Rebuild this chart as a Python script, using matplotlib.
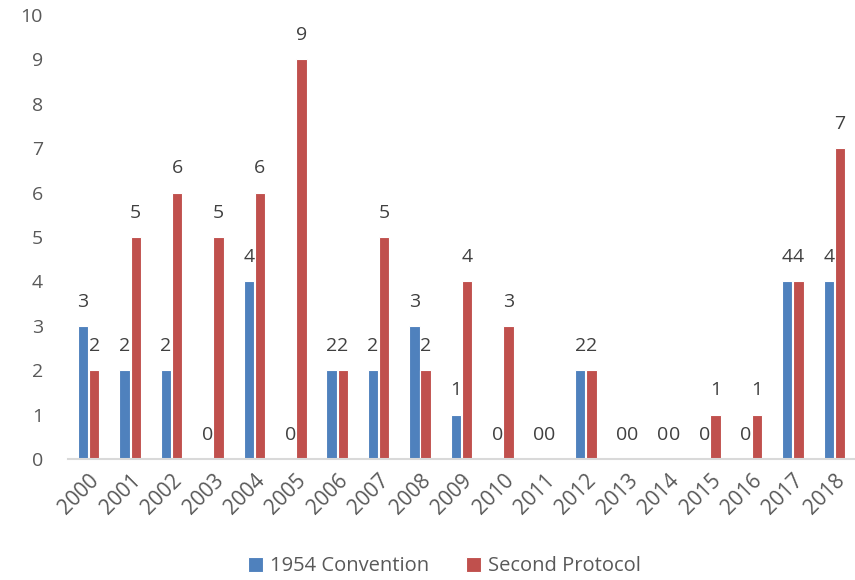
import numpy as np
import matplotlib
matplotlib.use("Agg")
import matplotlib.pyplot as plt

years = [str(y) for y in range(2000, 2019)]
convention_1954 = [3, 2, 2, 0, 4, 0, 2, 2, 3, 1, 0, 0, 2, 0, 0, 0, 0, 4, 4]
second_protocol = [2, 5, 6, 5, 6, 9, 2, 5, 2, 4, 3, 0, 2, 0, 0, 1, 1, 4, 7]

plt.rcParams['font.family'] = ['Open Sans', 'DejaVu Sans']

fig = plt.figure(figsize=(8.55, 5.8), dpi=100)
ax = fig.add_axes([0.0795, 0.2086, 0.9205, 0.7655])

x = np.arange(len(years))
w = 0.25
b1 = ax.bar(x - w / 2 - 0.01, convention_1954, w, color='#4F81BD',
            edgecolor='white', linewidth=0.8, label='1954 Convention')
b2 = ax.bar(x + w / 2 + 0.01, second_protocol, w, color='#C0504D',
            edgecolor='white', linewidth=0.8, label='Second Protocol')

ax.bar_label(b1, padding=11, fontsize=14, color='#404040')
ax.bar_label(b2, padding=11, fontsize=14, color='#404040')

ax.set_xlim(-0.5, len(years) - 0.5)
ax.set_ylim(0, 10)
ax.set_yticks(range(0, 11))
ax.set_xticks(x)
ax.set_xticklabels(years, rotation=45, ha='right', rotation_mode='anchor')
ax.tick_params(axis='both', length=0, labelsize=14, labelcolor='#595959')
ax.tick_params(axis='x', labelsize=15, pad=8)
ax.tick_params(axis='y', pad=18)

for s in ['top', 'right', 'left']:
    ax.spines[s].set_visible(False)
ax.spines['bottom'].set_color('#D9D9D9')
ax.spines['bottom'].set_linewidth(1.5)

fig.legend(handles=[b1, b2], loc='lower center', ncol=2, frameon=False,
           bbox_to_anchor=(0.52, -0.025), fontsize=14.5, handlelength=0.75,
           handleheight=0.75, columnspacing=1.8, handletextpad=0.35,
           labelcolor='#595959')

fig.savefig('out.png', dpi=100)
